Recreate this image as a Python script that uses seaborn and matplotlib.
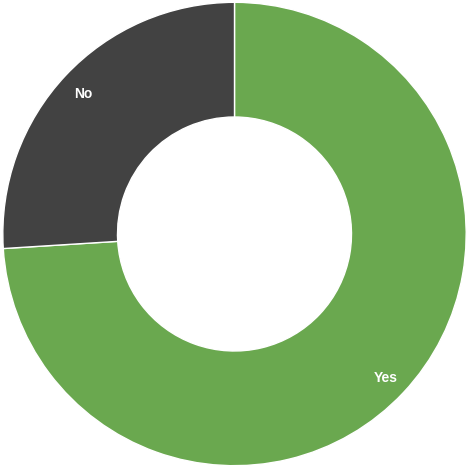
import matplotlib
matplotlib.use('Agg')
import matplotlib.pyplot as plt
import seaborn as sns
import numpy as np

# data
labels = ['Yes', 'No']
values = [74, 26]
colors = ['#6aa84f', '#424242']

sns.set_theme(style='white')
plt.rcParams['font.family'] = ['Liberation Sans', 'DejaVu Sans']

fig = plt.figure(figsize=(4.69, 4.68), dpi=100)
ax = fig.add_axes([0, 0, 1, 1])

wedges, _ = ax.pie(values, colors=colors, startangle=90, counterclock=False,
                   radius=1.0,
                   wedgeprops=dict(width=0.495, edgecolor='white', linewidth=1))

# labels near the outer edge
total = sum(values)
start = 90.0
for lab, v in zip(labels, values):
    mid = start - 360.0 * v / total / 2
    r = 0.895
    ax.text(r * np.cos(np.radians(mid)), r * np.sin(np.radians(mid)) - 0.01, lab,
            ha='center', va='center', color='white', fontsize=10,
            fontweight='bold')
    start -= 360.0 * v / total

ax.set_xlim(-1.01, 1.01)
ax.set_ylim(-1.01, 1.01)
ax.set_aspect('equal')
ax.axis('off')

fig.savefig('out.png', dpi=100, facecolor='white')
